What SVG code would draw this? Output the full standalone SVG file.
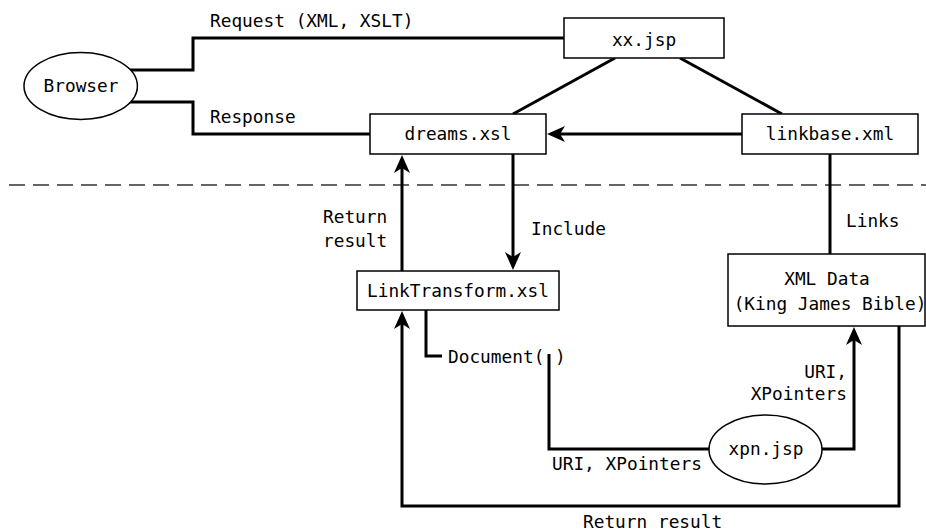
<svg xmlns="http://www.w3.org/2000/svg" width="926" height="532" viewBox="0 0 926 532">
  <style>
    .box { fill: #fff; stroke: #000; stroke-width: 1.5; }
    .oval { fill: #fff; stroke: #000; stroke-width: 1.5; }
    .wire { fill: none; stroke: #000; stroke-width: 3; stroke-linejoin: miter; }
    .divider { fill: none; stroke: #333; stroke-width: 1.5; stroke-dasharray: 16 8; }
    text { font-family: "DejaVu Sans Mono", "Liberation Mono", monospace; font-size: 17.8px; fill: #000; }
    .mid { text-anchor: middle; }
    .end { text-anchor: end; }
  </style>
  <defs>
    <marker id="arrow" markerUnits="userSpaceOnUse" viewBox="-16 -10 22 20" refX="0" refY="0" markerWidth="22" markerHeight="20" orient="auto">
      <path d="M4,0 L-14,-8 L-9,0 L-14,8 Z" fill="#000"/>
    </marker>
  </defs>

  <rect width="926" height="532" fill="#fff"/>

  <!-- boundary between web tier and data tier -->
  <line class="divider" x1="9" y1="185" x2="926" y2="185"/>

  <g id="connectors">
    <polyline class="wire" points="130,70 193,70 193,38 564,38"/>
    <polyline class="wire" points="130,102 193,102 193,134 370,134"/>
    <line class="wire" x1="615" y1="58" x2="513" y2="114"/>
    <line class="wire" x1="680" y1="58" x2="782" y2="114"/>
    <line class="wire" x1="742" y1="134" x2="551" y2="134" marker-end="url(#arrow)"/>
    <line class="wire" x1="402" y1="271" x2="402" y2="159" marker-end="url(#arrow)"/>
    <line class="wire" x1="513" y1="154" x2="513" y2="266" marker-end="url(#arrow)"/>
    <line class="wire" x1="830" y1="154" x2="830" y2="254"/>
    <polyline class="wire" points="426,310 426,356 442,356"/>
    <polyline class="wire" points="549,354 549,449 709,449"/>
    <polyline class="wire" points="822,449 854,449 854,331" marker-end="url(#arrow)"/>
    <polyline class="wire" points="899,326 899,506 402,506 402,315" marker-end="url(#arrow)"/>

    <text x="210" y="27">Request (XML, XSLT)</text>
    <text x="210" y="123">Response</text>
    <text x="323" y="223">Return</text>
    <text x="323" y="247">result</text>
    <text x="531" y="235">Include</text>
    <text x="846" y="227">Links</text>
    <text x="448" y="363">Document( )</text>
    <text x="847" y="378" class="end">URI,</text>
    <text x="847" y="400" class="end">XPointers</text>
    <text x="552" y="470">URI, XPointers</text>
    <text x="583" y="528">Return result</text>
  </g>

  <g id="browser">
    <ellipse class="oval" cx="80.7" cy="86" rx="56.7" ry="33.5"/>
    <text x="81" y="92" class="mid">Browser</text>
  </g>

  <g id="xx-jsp">
    <rect class="box" x="564" y="18" width="160" height="40"/>
    <text x="644" y="46" class="mid">xx.jsp</text>
  </g>

  <g id="dreams-xsl">
    <rect class="box" x="370" y="114" width="176" height="40"/>
    <text x="458" y="140" class="mid">dreams.xsl</text>
  </g>

  <g id="linkbase-xml">
    <rect class="box" x="742" y="114" width="176" height="40"/>
    <text x="830" y="140" class="mid">linkbase.xml</text>
  </g>

  <g id="linktransform-xsl">
    <rect class="box" x="357" y="271" width="202" height="39"/>
    <text x="458" y="297" class="mid">LinkTransform.xsl</text>
  </g>

  <g id="xml-data">
    <rect class="box" x="728" y="254" width="197" height="72"/>
    <text x="827" y="285" class="mid">XML Data</text>
    <text x="830" y="310" class="mid">(King James Bible)</text>
  </g>

  <g id="xpn-jsp">
    <ellipse class="oval" cx="765.5" cy="449.5" rx="56.5" ry="34.5"/>
    <text x="766" y="455" class="mid">xpn.jsp</text>
  </g>
</svg>
